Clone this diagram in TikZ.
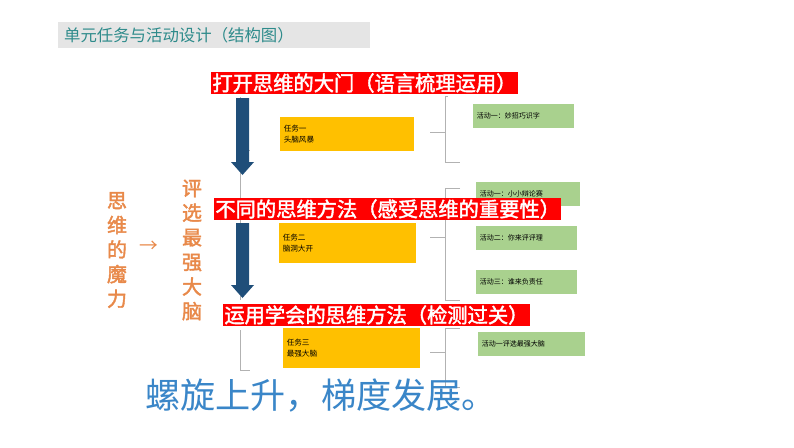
\documentclass[tikz,border=0pt]{standalone}
\usepackage{fontspec}
\newfontfamily\cjk{Noto Sans CJK SC}
\newfontfamily\cjkb[FakeBold=2]{Noto Sans CJK SC}
\definecolor{ttl}{HTML}{2E8B8B}
\definecolor{org}{HTML}{E8894A}
\definecolor{gold}{HTML}{FFC000}
\definecolor{grn}{HTML}{A9D18E}
\definecolor{navy}{HTML}{1F4E79}
\definecolor{blu}{HTML}{3A86C8}
\tikzset{
 banner/.style={fill=red,text=white,font=\cjkb\fontsize{17.3}{18}\selectfont,anchor=west,inner sep=1pt},
 task/.style={fill=gold,anchor=north west,align=left,font=\cjk\fontsize{6.5}{9}\selectfont,inner sep=3pt,text width=#1},
 act/.style={fill=grn,anchor=north west,font=\cjk\fontsize{6}{7}\selectfont,inner sep=3pt,minimum height=0.7cm,text width=#1,align=left},
 ln/.style={draw=gray!60,line width=0.4pt},
 vt/.style={text=org,font=\cjkb\fontsize{17}{21}\selectfont,align=center,text width=0.7cm},
 dar/.style={fill=navy,draw=none}
}
\begin{document}
\begin{tikzpicture}[x=0.03cm,y=-0.03cm]
\useasboundingbox (0,0) rectangle (794,447);
\fill[gray!20] (58,22) rectangle (370,48);
\node[text=ttl,font=\cjk\fontsize{14}{14}\selectfont,anchor=west] (title) at (60,35) {单元任务与活动设计（结构图）};
\draw[ln] (240,97) -- (240,300);
\draw[ln] (240,150) -- (250,150);
\draw[ln] (240,330) -- (240,370) -- (250,370);
\node[task=3.8cm,minimum height=1.02cm] (t1) at (280,117) {任务一\\头脑风暴};
\node[task=3.9cm,minimum height=1.2cm] (t2) at (279,223) {任务二\\脑洞大开};
\node[task=3.9cm,minimum height=1.2cm] (t3) at (283,328) {任务三\\最强大脑};
\node[act=2.8cm] (a1) at (473,104) {活动一：妙招巧识字};
\node[act=2.9cm] (a2) at (476,182) {活动一：小小辩论赛};
\node[act=2.8cm] (a3) at (476,226) {活动二：你来评评理};
\node[act=2.8cm] (a4) at (476,270) {活动三：谁来负责任};
\node[act=3.0cm] (a5) at (478,332) {活动一评选最强大脑};
\draw[ln] (430,132) -- (445,132) (448,96) -- (445,96) -- (445,162) -- (460,162);
\draw[ln] (430,237) -- (445,237) (460,188) -- (445,188) -- (445,300) -- (460,300);
\draw[ln] (430,352) -- (445,352) (460,328) -- (445,328) -- (445,387) -- (460,387);
\fill[dar] (236,98) -- (249,98) -- (249,162) -- (254,162) -- (242.5,175) -- (231,162) -- (236,162) -- cycle;
\fill[dar] (236,223) -- (249,223) -- (249,285) -- (254,285) -- (242.5,298) -- (231,285) -- (236,285) -- cycle;
\node[banner] (b1) at (211,83) {打开思维的大门（语言梳理运用）};
\node[banner] (b2) at (214,209) {不同的思维方法（感受思维的重要性）};
\node[banner] (b3) at (223,315) {运用学会的思维方法（检测过关）};
\node[vt] (v1) at (117,250) {思\\维\\的\\魔\\力};
\node[text=org,font=\cjk\fontsize{16}{16}\selectfont] (arr) at (149,247) {→};
\node[vt] (v2) at (192,250) {评\\选\\最\\强\\大\\脑};
\node[text=blu,font=\cjk\fontsize{30}{30}\selectfont] (bot) at (321,396) {螺旋上升，梯度发展。};
\end{tikzpicture}
\end{document}
